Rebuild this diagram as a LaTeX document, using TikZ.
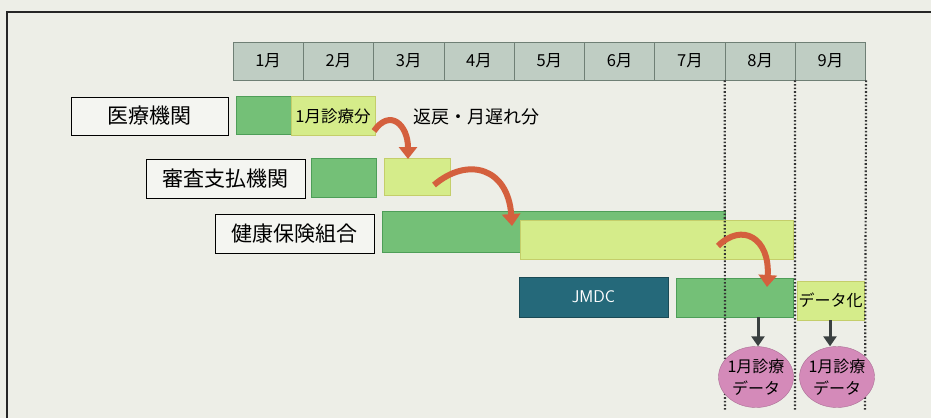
\documentclass[tikz,border=0pt]{standalone}
\usepackage{fontspec}
\setmainfont{Noto Sans CJK JP}
\usetikzlibrary{arrows.meta,calc,shapes.geometric}
\definecolor{bg}{HTML}{EDEEE7}
\definecolor{hdr}{HTML}{BFCDC3}
\definecolor{hdrline}{HTML}{6F7F75}
\definecolor{dgreen}{HTML}{74C077}
\definecolor{dgreenline}{HTML}{4E9E58}
\definecolor{lgreen}{HTML}{D5EC8A}
\definecolor{lgreenline}{HTML}{C4CE6A}
\definecolor{teal}{HTML}{25697A}
\definecolor{pink}{HTML}{D48AB9}
\definecolor{redarr}{HTML}{D4603E}
\definecolor{darr}{HTML}{3A4040}
\tikzset{
  hcell/.style={draw=hdrline,line width=0.8pt,fill=hdr,minimum width=70.3pt,minimum height=38pt,inner sep=0pt,font=\fontsize{16.5}{16.5}\selectfont},
  lbox/.style={draw=black,line width=0.9pt,fill=white!40!bg,inner sep=0pt,font=\fontsize{21}{21}\selectfont},
  dbar/.style={draw=dgreenline,line width=0.8pt,fill=dgreen},
  lbar/.style={draw=lgreenline,line width=0.8pt,fill=lgreen},
  redcurve/.style={draw=redarr,line width=6pt,-{Triangle[length=12pt,width=18pt]}},
  downarr/.style={draw=darr,line width=3pt,-{Triangle[length=10pt,width=13pt]}},
  vdots/.style={draw=black!80,line width=2.2pt,dash pattern=on 1.6pt off 2pt},
  dataell/.style={ellipse,fill=pink,draw=pink!80!black,line width=0.4pt,minimum width=75pt,minimum height=61pt,inner sep=0pt},
  elltext/.style={align=center,inner sep=0pt,font=\fontsize{16}{22}\selectfont}
}
\begin{document}
\begin{tikzpicture}[x=1pt,y=-1pt]
\useasboundingbox (0,0) rectangle (931,418);
\fill[bg] (0,0) rectangle (931,418);
\draw[line width=1.2pt,black!85] (7,418) -- (7,12) -- (931,12);
% header
\foreach \i in {1,...,9}{
  \node[hcell] (m\i) at ({233+70.3*(\i-0.5)},61) {\i 月};
}
% row 1
\node[lbox,minimum width=157pt,minimum height=38pt] (lab1) at (149.5,116) {医療機関};
\node[dbar,minimum width=56pt,minimum height=38pt,inner sep=0pt] (r1d) at (264,115.5) {};
\node[lbar,minimum width=84pt,minimum height=39pt,inner sep=0pt,font=\fontsize{16.5}{16.5}\selectfont] (r1l) at (333,116) {1月診療分};
\node[font=\fontsize{18}{18}\selectfont,anchor=west] (late) at (410,117) {返戻・月遅れ分};
% row 2
\node[lbox,minimum width=159pt,minimum height=39pt] (lab2) at (225.5,178.5) {審査支払機関};
\node[dbar,minimum width=65pt,minimum height=39pt,inner sep=0pt] (r2d) at (343.5,177.5) {};
\node[lbar,minimum width=66pt,minimum height=37pt,inner sep=0pt] (r2l) at (417,176.5) {};
% row 3
\node[lbox,minimum width=159pt,minimum height=39pt] (lab3) at (294.5,233.5) {健康保険組合};
\node[dbar,minimum width=343pt,minimum height=41pt,inner sep=0pt] (r3d) at (553.5,231.5) {};
\node[lbar,minimum width=273pt,minimum height=39pt,inner sep=0pt] (r3l) at (656.5,239.5) {};
% row 4
\node[draw=teal!70!black,line width=0.8pt,fill=teal,minimum width=149pt,minimum height=40pt,inner sep=0pt,text=white,font=\sffamily\fontsize{17}{17}\selectfont] (jmdc) at (593.5,297) {JMDC};
\node[dbar,minimum width=117pt,minimum height=39pt,inner sep=0pt] (r4d) at (734.5,297.5) {};
\node[lbar,minimum width=67pt,minimum height=39pt,inner sep=0pt,font=\fontsize{16}{16}\selectfont] (r4l) at (830.5,300.5) {データ化};
% dotted lines
\coordinate (v1t) at (m8.south west); \coordinate (v1b) at (725,410);
\coordinate (v2t) at (m9.south west); \coordinate (v2b) at (795,410);
\coordinate (v3t) at (m9.south east); \coordinate (v3b) at (865,410);
\draw[vdots] (v1t) -- (v1b);
\draw[vdots] (v2t) -- (v2b);
\draw[vdots] (v3t) -- (v3b);
% ellipses
\node[dataell] (e1) at (756,377) {};
\node[elltext] (e1t) at (e1.center) {1月診療\\データ};
\node[dataell] (e2) at (837,377) {};
\node[elltext] (e2t) at (e2.center) {1月診療\\データ};
% down arrows
\draw[downarr] (r4d.south -| 758,0) -- (e1.north -| 758,0);
\draw[downarr] (r4l.south -| 830,0) -- (e2.north -| 830,0);
% red curved arrows
\coordinate (a1s) at (374,131);
\coordinate (a1e) at (408,159);
\draw[redcurve] (a1s) .. controls (390,108) and (408,125) .. (a1e);
\coordinate (a2s) at (434,185);
\coordinate (a2e) at (512,226);
\draw[redcurve] (a2s) .. controls (468,156) and (508,168) .. (a2e);
\coordinate (a3s) at (718,246);
\coordinate (a3e) at (767,287);
\draw[redcurve] (a3s) .. controls (742,222) and (770,238) .. (a3e);
\end{tikzpicture}
\end{document}
